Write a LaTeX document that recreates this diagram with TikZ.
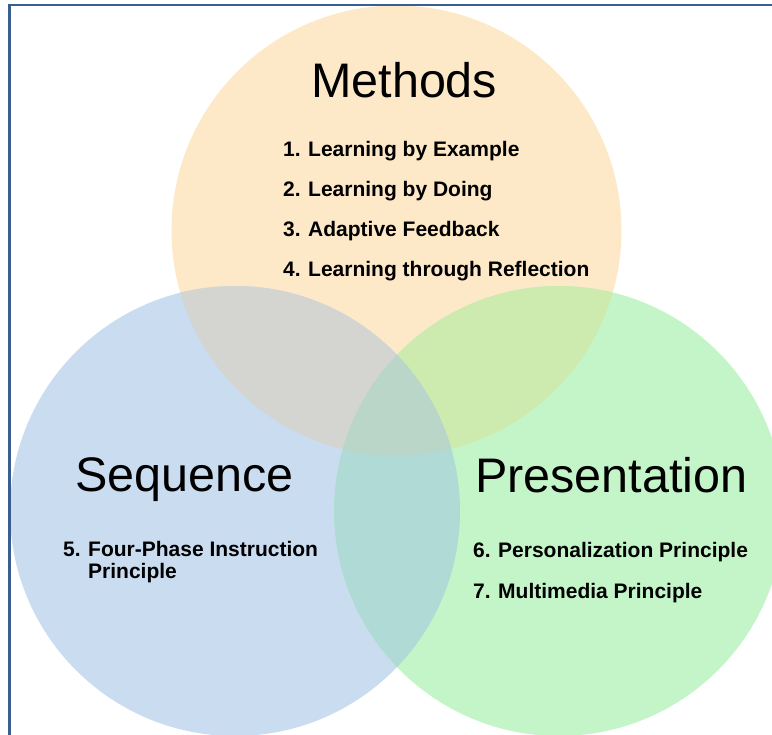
\documentclass[tikz,border=0pt]{standalone}
\usepackage{fontspec}
\setmainfont{Liberation Sans}
\definecolor{cM}{HTML}{FDE9C8}
\definecolor{cS}{HTML}{CADCF0}
\definecolor{cP}{HTML}{C4F5C8}
\definecolor{cMS}{HTML}{D4D4D0}
\definecolor{cMP}{HTML}{CDEAAF}
\definecolor{cSP}{HTML}{B0DAD6}
\definecolor{cMSP}{HTML}{B9D6C9}
\definecolor{frame}{HTML}{3A5D92}
\tikzset{
  title/.style={anchor=base west, inner sep=0pt, font=\fontsize{48.5}{58}\selectfont},
  item/.style={anchor=base west, inner sep=0pt, font=\fontsize{21}{21}\selectfont\bfseries},
}
\newcommand{\num}[1]{\makebox[25pt][l]{#1}}
\begin{document}
\begin{tikzpicture}[x=1pt,y=-1pt]
\useasboundingbox (0,0) rectangle (772,735);
\coordinate (M) at (396.5,230.5);
\coordinate (S) at (235,511);
\coordinate (P) at (559,511);
\def\R{225}
% single circles
\fill[cM] (M) circle (\R);
\fill[cS] (S) circle (\R);
\fill[cP] (P) circle (\R);
% pairwise
\begin{scope}
  \clip (M) circle (\R);
  \fill[cMS] (S) circle (\R);
  \fill[cMP] (P) circle (\R);
\end{scope}
\begin{scope}
  \clip (S) circle (\R);
  \fill[cSP] (P) circle (\R);
  \clip (P) circle (\R);
  \fill[cMSP] (M) circle (\R);
\end{scope}
% frame
\draw[frame, line width=2.2pt] (9.5,850) -- (9.5,5) -- (850,5);
% titles
\node[title] (tM) at (311,98) {Methods};
\node[title] (tS) at (75,492) {Sequence};
\node[title] (tP) at (475,493) {Presentation};
% items
\node[item] (m1) at (283,157) {\num{1.}Learning by Example};
\node[item] (m2) at (283,197) {\num{2.}Learning by Doing};
\node[item] (m3) at (283,237) {\num{3.}Adaptive Feedback};
\node[item] (m4) at (283,277) {\num{4.}Learning through Reflection};
\node[item] (s5) at (63,557) {\num{5.}Four-Phase Instruction};
\node[item] (s5b) at (88,578) {Principle};
\node[item] (p6) at (473,558) {\num{6.}Personalization Principle};
\node[item] (p7) at (473,598) {\num{7.}Multimedia Principle};
\end{tikzpicture}
\end{document}
